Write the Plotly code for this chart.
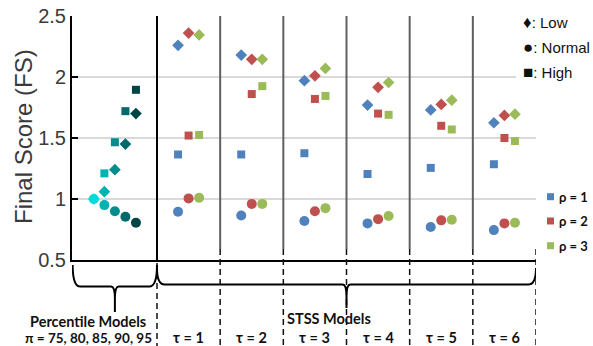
import plotly.graph_objects as go

# ---------------- data ----------------
tau_values = [1, 2, 3, 4, 5, 6]
rho_values = [1, 2, 3]
percentiles = [75, 80, 85, 90, 95]

pct_low = [1.00, 1.06, 1.24, 1.45, 1.70]
pct_normal = [1.00, 0.95, 0.90, 0.855, 0.805]
pct_high = [None, 1.21, 1.465, 1.72, 1.895]

low_rho1 = [2.26, 2.18, 1.97, 1.77, 1.73, 1.625]
low_rho2 = [2.36, 2.145, 2.01, 1.915, 1.775, 1.685]
low_rho3 = [2.345, 2.145, 2.07, 1.955, 1.81, 1.695]
normal_rho1 = [0.895, 0.865, 0.82, 0.80, 0.77, 0.745]
normal_rho2 = [1.005, 0.96, 0.90, 0.835, 0.825, 0.80]
normal_rho3 = [1.01, 0.96, 0.925, 0.86, 0.83, 0.805]
high_rho1 = [1.365, 1.365, 1.375, 1.205, 1.255, 1.285]
high_rho2 = [1.52, 1.86, 1.82, 1.70, 1.60, 1.50]
high_rho3 = [1.525, 1.925, 1.845, 1.69, 1.57, 1.475]

y_ticks = [0.5, 1, 1.5, 2, 2.5]
y_tick_labels = ["0.5", "1", "1.5", "2", "2.5"]

# ---------------- styles ----------------
pct_colors = ["#00DADA", "#00B2B2", "#008D8D", "#006A6A", "#004545"]
rho_colors = ["#4F81BD", "#C0504D", "#9BBB59"]
XMIN, XMAX = -0.8456, 6.5
PX_PER_Y = 244.0  # plot height in px

def py(px):
    """pixel row (page) -> paper y"""
    return (260 - px) / PX_PER_Y

def pxx(px):
    """pixel column (page) -> paper x"""
    return (px - 72) / 464.0

fig = go.Figure()

pct_x = [-0.5 + i / 6 for i in range(len(percentiles))]
sym = {"low": ("diamond", 9), "high": ("square", 8), "normal": ("circle", 10)}

# percentile models
for key, vals in [("low", pct_low), ("high", pct_high), ("normal", pct_normal)]:
    s, sz = sym[key]
    fig.add_trace(go.Scatter(x=pct_x, y=vals, mode="markers", showlegend=False,
                             marker=dict(symbol=s, size=sz, color=pct_colors, line=dict(width=0))))

# STSS models
series = {
    "low": [low_rho1, low_rho2, low_rho3],
    "high": [high_rho1, high_rho2, high_rho3],
    "normal": [normal_rho1, normal_rho2, normal_rho3],
}
for key in ["low", "high", "normal"]:
    s, sz = sym[key]
    for ri, rho in enumerate(rho_values):
        xs = [t + (rho - 2) / 6 for t in tau_values]
        fig.add_trace(go.Scatter(x=xs, y=series[key][ri], mode="markers", showlegend=False,
                                 marker=dict(symbol=s, size=sz, color=rho_colors[ri], line=dict(width=0))))

shapes = []
# vertical separators above axis
bounds = [0.5 + i for i in range(7)]
for i, b in enumerate(bounds[:-1]):
    shapes.append(dict(type="line", xref="x", yref="paper", x0=b, x1=b,
                       y0=0 if i == 0 else py(249), y1=1,
                       line=dict(color="#000000" if i == 0 else "#5f5f5f", width=2)))
# dashed lines below axis
for i, b in enumerate(bounds):
    shapes.append(dict(type="line", xref="x", yref="paper", x0=b, x1=b,
                       y0=py(263) if i == 0 else py(249), y1=py(346),
                       line=dict(color="#111111", width=1.5, dash="6px,4px")))

def brace(x0, x1, xc, ytop, yh, ybot, rx=0.12, rxs=0.06):
    return (f"M {x0},{py(ytop)} Q {x0},{py(yh)} {x0+rx},{py(yh)} "
            f"L {xc-rxs},{py(yh)} Q {xc},{py(yh)} {xc},{py(yh+12)} L {xc},{py(ybot)} "
            f"M {xc},{py(yh+12)} Q {xc},{py(yh)} {xc+rxs},{py(yh)} "
            f"L {x1-rx},{py(yh)} Q {x1},{py(yh)} {x1},{py(ytop)}")

shapes.append(dict(type="path", xref="x", yref="paper",
                   path=brace(-0.835, 0.5, -1/6, 265, 286.5, 312),
                   line=dict(color="black", width=2)))
shapes.append(dict(type="path", xref="x", yref="paper",
                   path=brace(0.5, 6.5, 3.5, 268, 284.5, 308),
                   line=dict(color="black", width=2)))

# white box behind marker-shape legend
shapes.append(dict(type="rect", xref="paper", yref="paper", x0=pxx(516), x1=pxx(600),
                   y0=py(85), y1=py(8), fillcolor="white", line=dict(width=0), layer="above"))
# rho legend swatches
for ri, yy in enumerate([196.7, 221, 245.7]):
    shapes.append(dict(type="rect", xref="paper", yref="paper",
                       x0=pxx(547), x1=pxx(554), y0=py(yy + 3.5), y1=py(yy - 3.5),
                       fillcolor=rho_colors[ri], line=dict(width=0), layer="above"))

ann = []
bold_font = dict(family="Lato", size=14.5, color="#111111")
for glyph, label, yy in [("♦", "Low", 22.5), ("●", "Normal", 47.5), ("■", "High", 72.5)]:
    ann.append(dict(text=f"<span style='font-size:17px'>{glyph}</span>: {label}",
                    xref="paper", yref="paper", x=pxx(521), y=py(yy),
                    xanchor="left", yanchor="middle", showarrow=False,
                    font=dict(family="Liberation Sans, Arial", size=15, color="#111111")))
for ri, yy in enumerate([196.7, 221, 245.7]):
    ann.append(dict(text=f"<b>ρ = {rho_values[ri]}</b>", xref="paper", yref="paper",
                    x=pxx(557), y=py(yy), xanchor="left", yanchor="middle",
                    showarrow=False, font=dict(family="Lato", size=13, color="#111111")))
ann.append(dict(text="<b>Percentile Models</b>", xref="paper", yref="paper", x=pxx(88),
                y=py(321), xanchor="center", yanchor="middle", showarrow=False, font=bold_font))
ann.append(dict(text="<b>π = " + ", ".join(str(p) for p in percentiles) + "</b>", xref="paper",
                yref="paper", x=pxx(88), y=py(338), xanchor="center", yanchor="middle",
                showarrow=False, font=dict(family="Lato", size=13.5, color="#111111")))
ann.append(dict(text="<b>STSS Models</b>", xref="x", yref="paper", x=3.23,
                y=py(318), xanchor="center", yanchor="middle", showarrow=False, font=bold_font))
for t in tau_values:
    ann.append(dict(text=f"<b>τ = {t}</b>", xref="x", yref="paper", x=t, y=py(337),
                    xanchor="center", yanchor="middle", showarrow=False, font=bold_font))
# y-axis title
ann.append(dict(text="Final Score (FS)", xref="paper", yref="paper", x=pxx(23), y=py(137),
                xanchor="center", yanchor="middle", textangle=-90, showarrow=False,
                font=dict(family="Liberation Sans, Arial", size=24, color="#3a3a3a")))

fig.update_layout(
    template="none",
    width=593, height=346,
    margin=dict(l=72, r=57, t=16, b=86, autoexpand=False),
    paper_bgcolor="white", plot_bgcolor="white",
    showlegend=False,
    shapes=shapes, annotations=ann,
    xaxis=dict(range=[XMIN, XMAX], showgrid=False, zeroline=False, showticklabels=False,
               ticks="", showline=True, linecolor="black", linewidth=2, automargin=False),
    yaxis=dict(range=[0.5, 2.5], tickvals=y_ticks, ticktext=y_tick_labels, automargin=False,
               showgrid=True, gridcolor="#d9d9d9", gridwidth=1.5, zeroline=False,
               showline=True, linecolor="black", linewidth=2,
               ticks="inside", ticklen=6, tickwidth=1.5, tickcolor="black",
               tickfont=dict(family="Liberation Sans, Arial", size=20, color="#3a3a3a")),
)

fig.write_html("out.html", config={"displayModeBar": False},
               post_script="document.body.style.margin='0';document.body.style.padding='0';")
